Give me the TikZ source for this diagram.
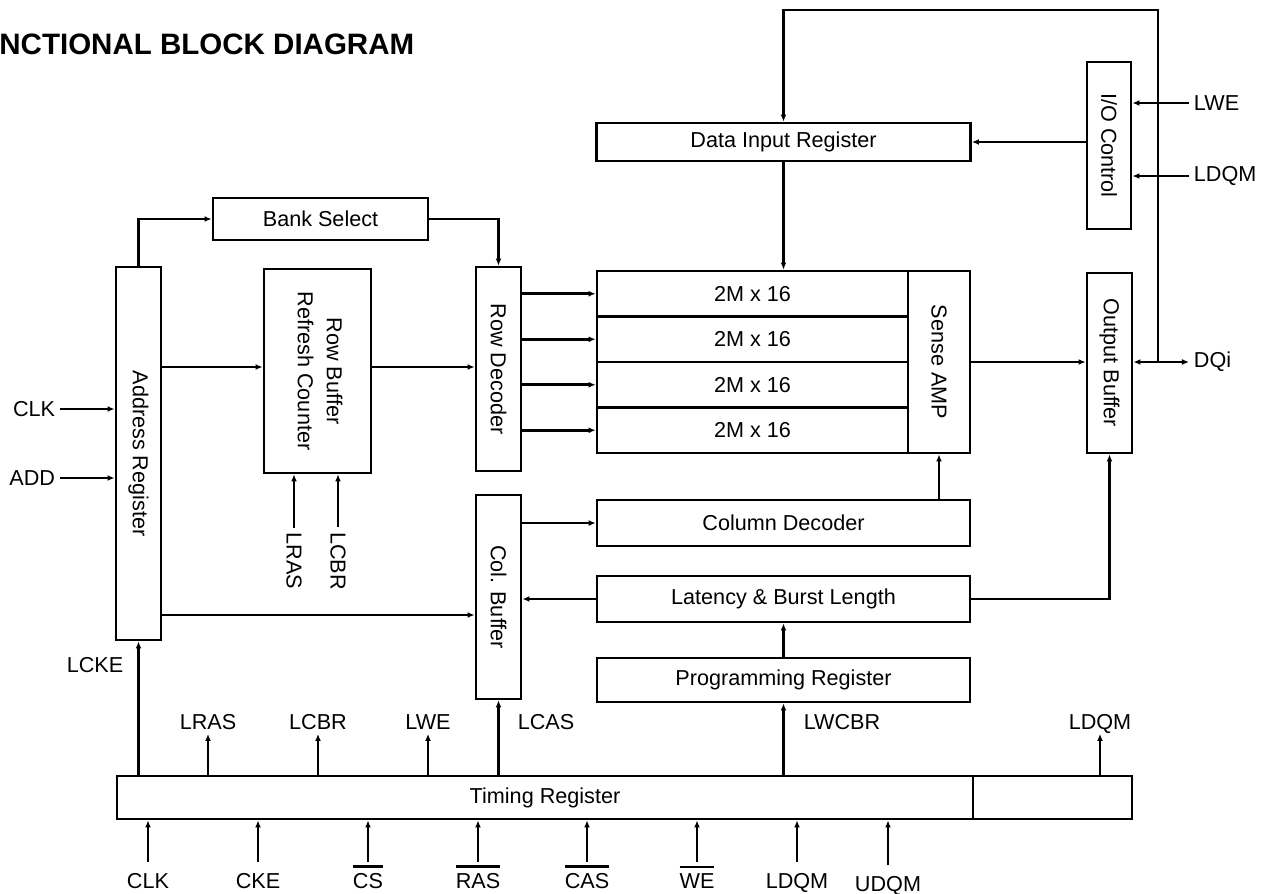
\documentclass[tikz,border=0pt]{standalone}
\usepackage{fontspec}
\setmainfont{Liberation Sans}
\usetikzlibrary{arrows.meta,calc}

\newsavebox{\sigbox}
\newcommand{\barsig}[1]{\sbox{\sigbox}{#1}\rlap{\rule[\dimexpr\ht\sigbox+2.8pt\relax]{\wd\sigbox}{1.5pt}}\usebox{\sigbox}}

\tikzset{
	blk/.style={draw, inner sep=0pt, align=center},
	sig/.style={inner sep=2pt},
	insig/.style={sig, anchor=base, text height=0.42cm},
	outsig/.style={sig, anchor=base, text depth=0pt},
}

\begin{document}
\begin{tikzpicture}[x=0.02cm, y=-0.02cm, line width=1.6pt,
	font=\fontsize{12.3}{14.5}\selectfont, >={Latex[length=4pt,width=3.4pt]}]
		\useasboundingbox (0,0) rectangle (1271,893);
		
		\node[anchor=base west, inner sep=0pt, font=\fontsize{16.8}{20}\selectfont\bfseries] (title) at (-2,54) {NCTIONAL BLOCK DIAGRAM};
		
		\node[blk, minimum width=7.48cm, minimum height=0.76cm] (dir) at (783.5,142) {Data Input Register};
		\node[blk, minimum width=0.88cm, minimum height=3.34cm] (ioc) at (1109,145.5) {\rotatebox{-90}{I/O Control}};
		\foreach \i/\y in {1/293.75,2/339.25,3/384.75,4/430.25}
			\node[blk, minimum width=6.22cm, minimum height=0.91cm] (m\i) at (752.5,\y) {2M x 16};
		\node[blk, minimum width=1.24cm, minimum height=3.64cm] (samp) at (939,362) {\rotatebox{-90}{Sense AMP}};
		\node[blk, minimum width=0.9cm, minimum height=3.6cm] (obuf) at (1109.5,363) {\rotatebox{-90}{Output Buffer}};
		\node[blk, minimum width=0.9cm, minimum height=4.08cm] (rdec) at (498.5,369) {\rotatebox{-90}{Row Decoder}};
		\node[blk, minimum width=4.3cm, minimum height=0.84cm] (bsel) at (320.5,219) {Bank Select};
		\node[blk, minimum width=0.9cm, minimum height=7.46cm] (areg) at (138.5,453.5) {\rotatebox{-90}{Address Register}};
		\node[blk, minimum width=2.14cm, minimum height=4.08cm] (rbuf) at (317.5,371)
			{\rotatebox{-90}{\begin{tabular}{@{}c@{}}Row Buffer\\[2pt]Refresh Counter\end{tabular}}};
		\node[blk, minimum width=0.9cm, minimum height=4.08cm] (cbuf) at (498.5,597) {\rotatebox{-90}{Col. Buffer}};
		\node[blk, minimum width=7.46cm, minimum height=0.92cm] (cdec) at (783.5,523) {Column Decoder};
		\node[blk, minimum width=7.46cm, minimum height=0.92cm] (lat) at (783.5,599) {Latency \& Burst Length};
		\node[blk, minimum width=7.46cm, minimum height=0.88cm] (preg) at (783.5,680) {Programming Register};
		\node[blk, minimum width=17.12cm, minimum height=0.86cm] (treg) at (545,797.5) {Timing Register};
		\node[blk, minimum width=3.18cm, minimum height=0.86cm] (tx) at (1052.5,797.5) {};
		
		\node[sig, anchor=east] (clk) at (60,409) {CLK};
		\node[sig, anchor=east] (add) at (60,478) {ADD};
		\node[sig, anchor=west] (lwe) at (1189,103) {LWE};
		\node[sig, anchor=west] (ldqr) at (1189,176) {LDQM};
		\node[sig, anchor=west] (dqi) at (1189,362) {DQi};
		\node[sig] (lras) at (294,561) {\rotatebox{-90}{LRAS}};
		\node[sig] (lcbr) at (338,561) {\rotatebox{-90}{LCBR}};
		\node[sig] (lcke) at (95,665) {LCKE};
		
		\node[outsig] (olras) at (208,729) {LRAS};
		\node[outsig] (olcbr) at (318,729) {LCBR};
		\node[outsig] (olwe) at (428,729) {LWE};
		\node[outsig] (olcas) at (546,729) {LCAS};
		\node[outsig] (olwcbr) at (842,729) {LWCBR};
		\node[outsig] (oldqm) at (1100,729) {LDQM};
		
		\foreach \n/\x/\t in {iclk/148/CLK, icke/258/CKE, ics/368/\barsig{CS}, iras/478/\barsig{RAS},
			icas/587/\barsig{CAS}, iwe/697/\barsig{WE}, ildqm/797/LDQM}
			\node[insig] (\n) at (\x,888) {\t};
		\node[insig] (iudqm) at (888,891) {UDQM};
		
		\draw[->] (clk.east) -- (clk.east -| areg.west);
		\draw[->] (add.east) -- (add.east -| areg.west);
		\draw[->] (areg.north) |- (bsel.west);
		\draw[->] (bsel.east) -| (rdec.north);
		\draw[->] (areg.east |- 0,367) -- (rbuf.west |- 0,367);
		\draw[->] (rbuf.east |- 0,367) -- (rdec.west |- 0,367);
		\foreach \i in {1,...,4}
			\draw[->] (rdec.east |- m\i.west) -- (m\i.west);
		\draw[->] (areg.east |- 0,615) -- (cbuf.west |- 0,615);
		\draw[->] (lras.north) -- (lras.north |- rbuf.south);
		\draw[->] (lcbr.north) -- (lcbr.north |- rbuf.south);
		
		\draw[->] (dir.south) -- (dir.south |- m1.north);
		\draw[->] (ioc.west |- dir.east) -- (dir.east);
		\draw[->] (lwe.west) -- (lwe.west -| ioc.east);
		\draw[->] (ldqr.west) -- (ldqr.west -| ioc.east);
		\draw[->] (samp.east) -- (samp.east -| obuf.west);
		\draw[<->] (obuf.east |- samp.east) -- (dqi.west);
		\coordinate (dqj) at (1158,362);
		\coordinate (loop) at (1158,10);
		\draw[->] (dqj) -- (loop) -| (dir.north);
		
		\draw[->] (cbuf.east |- cdec.west) -- (cdec.west);
		\draw[->] (cdec.north -| samp.south) -- (samp.south);
		\draw[->] (lat.west) -- (lat.west -| cbuf.east);
		\draw[->] (lat.east) -| (obuf.south);
		\draw[->] (preg.north) -- (lat.south);
		
		\draw[->] (treg.north -| areg.south) -- (areg.south);
		\draw[->] (treg.north -| cbuf.south) -- (cbuf.south);
		\draw[->] (treg.north -| preg.south) -- (preg.south);
		\foreach \n in {olras,olcbr,olwe}
			\draw[->] (treg.north -| \n.south) -- (\n.south);
		\draw[->] (tx.north -| oldqm.south) -- (oldqm.south);
		\foreach \n in {iclk,icke,ics,iras,icas,iwe,ildqm,iudqm}
			\draw[->] (\n.north) -- (\n.north |- treg.south);
	\end{tikzpicture}
\end{document}
